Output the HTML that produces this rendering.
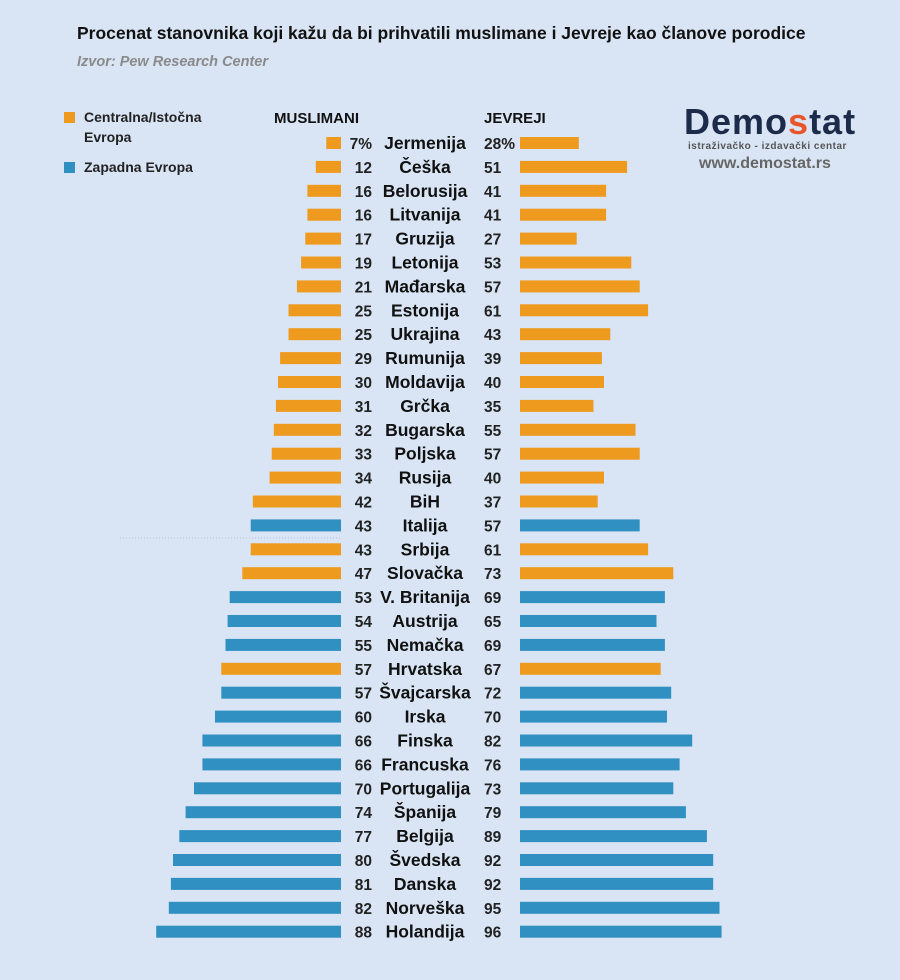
<!DOCTYPE html>
<html><head><meta charset="utf-8"><style>
body{margin:0;background:#d9e5f4;}
svg{display:block;font-family:"Liberation Sans",Arial,sans-serif;}
</style></head><body>
<svg width="900" height="980" viewBox="0 0 900 980">
<rect width="900" height="980" fill="#d9e5f4"/>
<text x="77" y="39" font-size="17.5" font-weight="bold" fill="#111">Procenat stanovnika koji kažu da bi prihvatili muslimane i Jevreje kao članove porodice</text>
<text x="77" y="66" font-size="14.5" font-style="italic" font-weight="bold" fill="#8a8a8a">Izvor: Pew Research Center</text>
<rect x="64" y="112" width="11" height="11" fill="#ee9a1f"/>
<text x="84" y="122" font-size="14" font-weight="bold" fill="#222">Centralna/Istočna</text>
<text x="84" y="142" font-size="14" font-weight="bold" fill="#222">Evropa</text>
<rect x="64" y="162" width="11" height="11" fill="#3190c2"/>
<text x="84" y="172" font-size="14" font-weight="bold" fill="#222">Zapadna Evropa</text>
<text x="274" y="123" font-size="15" font-weight="bold" fill="#111">MUSLIMANI</text>
<text x="484" y="123" font-size="15" font-weight="bold" fill="#111">JEVREJI</text>
<text x="684" y="134" font-size="36" font-weight="bold" fill="#1c2b4a" letter-spacing="1">Demo<tspan fill="#e8552a">s</tspan>tat</text>
<text x="688" y="149" font-size="10" font-weight="bold" fill="#555" letter-spacing="0.5">istraživačko - izdavački  centar</text>
<text x="699" y="168" font-size="16" font-weight="bold" fill="#666">www.demostat.rs</text>
<line x1="120" y1="538" x2="340" y2="538" stroke="#b8c4d4" stroke-dasharray="1,2"/>
<g id="rows"></g>
</svg>
<script>
var d=[["Jermenija",7,28,0],["Češka",12,51,0],["Belorusija",16,41,0],["Litvanija",16,41,0],["Gruzija",17,27,0],["Letonija",19,53,0],["Mađarska",21,57,0],["Estonija",25,61,0],["Ukrajina",25,43,0],["Rumunija",29,39,0],["Moldavija",30,40,0],["Grčka",31,35,0],["Bugarska",32,55,0],["Poljska",33,57,0],["Rusija",34,40,0],["BiH",42,37,0],["Italija",43,57,1],["Srbija",43,61,0],["Slovačka",47,73,0],["V. Britanija",53,69,1],["Austrija",54,65,1],["Nemačka",55,69,1],["Hrvatska",57,67,0],["Švajcarska",57,72,1],["Irska",60,70,1],["Finska",66,82,1],["Francuska",66,76,1],["Portugalija",70,73,1],["Španija",74,79,1],["Belgija",77,89,1],["Švedska",80,92,1],["Danska",81,92,1],["Norveška",82,95,1],["Holandija",88,96,1]];
var s="",k=2.1;
d.forEach(function(r,i){var y=143+i*23.9,c=r[3]?"#3190c2":"#ee9a1f";
s+='<rect x="'+(341-r[1]*k)+'" y="'+(y-6)+'" width="'+(r[1]*k)+'" height="12" fill="'+c+'"/>';
s+='<rect x="520" y="'+(y-6)+'" width="'+(r[2]*k)+'" height="12" fill="'+c+'"/>';
s+='<text x="372" y="'+(y+6)+'" font-size="15.5" font-weight="bold" fill="#222" text-anchor="end">'+r[1]+(i==0?'%':'')+'</text>';
s+='<text x="425" y="'+(y+6)+'" font-size="17.5" font-weight="bold" fill="#111" text-anchor="middle">'+r[0]+'</text>';
s+='<text x="484" y="'+(y+6)+'" font-size="15.5" font-weight="bold" fill="#222">'+r[2]+(i==0?'%':'')+'</text>';});
document.getElementById("rows").innerHTML=s;
</script>
</body></html>
